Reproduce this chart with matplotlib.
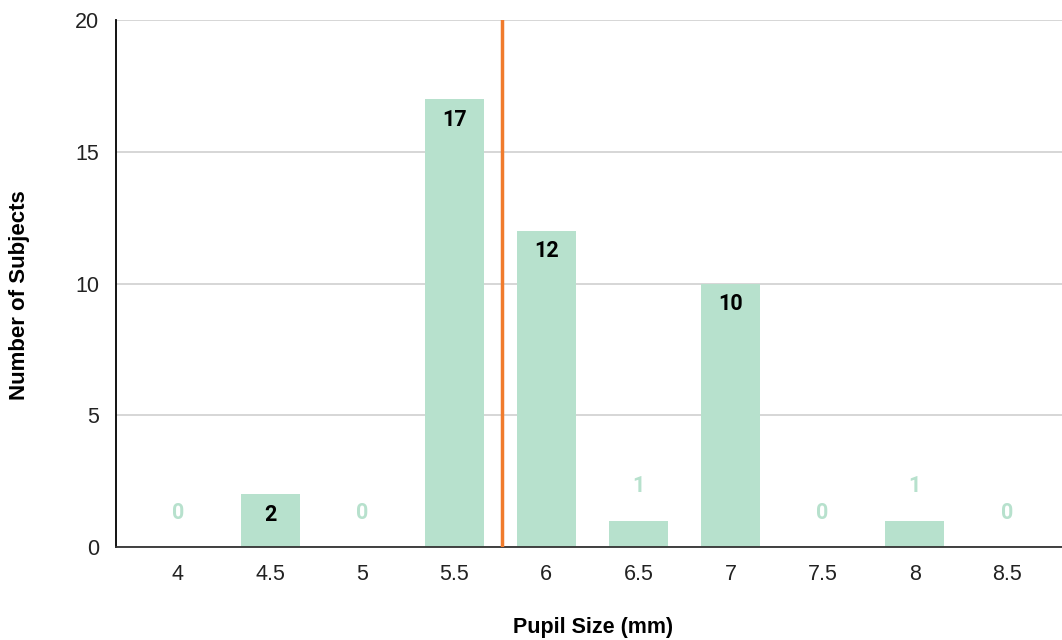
import numpy as np
import matplotlib.pyplot as plt

# pupil size bins and counts
sizes  = ['4', '4.5', '5', '5.5', '6', '6.5', '7', '7.5', '8', '8.5']
counts = [0, 2, 0, 17, 12, 1, 10, 0, 1, 0]
mean_size = 5.76

bar_col  = '#b7e1cd'
line_col = '#f07b2c'

plt.rcParams['font.family'] = ['Liberation Sans', 'DejaVu Sans']

fig = plt.figure(figsize=(10.62, 6.4), dpi=100)
ax = fig.add_axes([116/1062, 1 - 547/640, (1062-116)/1062, (547-20)/640])

x = np.arange(len(sizes))
ax.bar(x, counts, width=0.64, color=bar_col, linewidth=0, zorder=2)

# value labels: inside tall bars, above short ones
for xi, c in zip(x, counts):
    if c >= 2:
        ax.text(xi, c - 0.78, str(c), ha='center', va='center',
                fontsize=15.5, fontweight='bold', color='black',
                family=['Roboto', 'DejaVu Sans'], zorder=4)
    else:
        ax.text(xi, c + 1.3, str(c), ha='center', va='center',
                fontsize=15.5, fontweight='bold', color=bar_col,
                family=['Roboto', 'DejaVu Sans'], zorder=4)

# mean marker, placed on the category scale
pos = (mean_size - 4) / 0.5
ax.plot([pos, pos], [0.05, 20], color=line_col, lw=2.5, zorder=3)

ax.set_xlim(-0.673, 9.6)
ax.set_ylim(0, 20)
ax.set_xticks(x)
ax.set_xticklabels(sizes)
ax.set_yticks([0, 5, 10, 15, 20])
ax.tick_params(length=0, labelsize=15.5, colors='#222222')
ax.tick_params(axis='x', pad=12)
ax.tick_params(axis='y', pad=12)
ax.grid(axis='y', color='#d0d0d0', lw=1.2, zorder=0)
ax.set_axisbelow(True)

for s in ['top', 'right']:
    ax.spines[s].set_visible(False)
ax.spines['left'].set_color('black')
ax.spines['left'].set_linewidth(1.3)
ax.spines['bottom'].set_color('#333333')
ax.spines['bottom'].set_linewidth(1.3)

ax.set_xlabel('Pupil Size (mm)', fontsize=15.5, fontweight='bold')
ax.set_ylabel('Number of Subjects', fontsize=16, fontweight='bold')
ax.xaxis.set_label_coords(0.504, -0.152)
ax.yaxis.set_label_coords(-0.1015, 0.478)
ax.xaxis.label.set_va('center')
ax.yaxis.label.set_va('center')

fig.savefig('out.png', dpi=100)
